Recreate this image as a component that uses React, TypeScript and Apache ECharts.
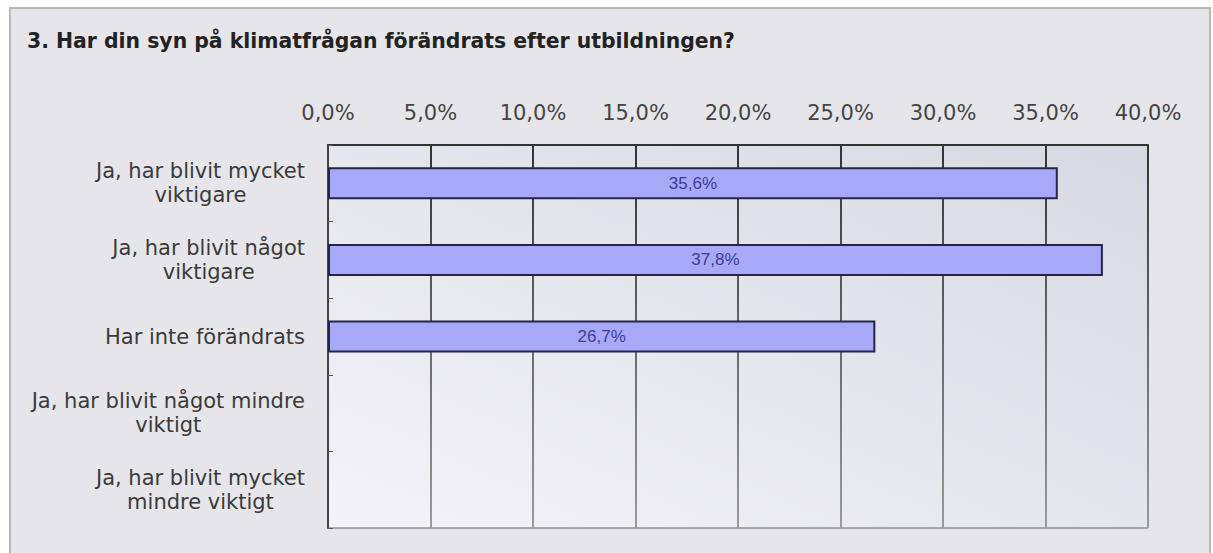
import React, { useEffect, useRef } from "react";
import * as echarts from "echarts";

const TITLE = "3. Har din syn på klimatfrågan förändrats efter utbildningen?";
const categories = [
  "Ja, har blivit mycket\nviktigare",
  "Ja, har blivit något\nviktigare",
  "Har inte förändrats",
  "Ja, har blivit något mindre\nviktigt",
  "Ja, har blivit mycket\nmindre viktigt",
];
const values = [35.6, 37.8, 26.7, 0, 0];
const xTicks = [0, 5, 10, 15, 20, 25, 30, 35, 40];

const LABEL_SIZE = 21;
const LABEL_FONT = `${LABEL_SIZE}px "DejaVu Sans"`;

function measure(text: string): number {
  const c = document.createElement("canvas");
  const ctx = c.getContext("2d");
  if (!ctx) return text.length * 11;
  ctx.font = LABEL_FONT;
  return ctx.measureText(text).width;
}

export default function App() {
  const ref = useRef<HTMLDivElement>(null);
  useEffect(() => {
    if (!ref.current) return;
    const chart = echarts.init(ref.current, null, { renderer: "svg" });
    const rich: Record<string, any> = {};
    categories.forEach((c, i) => {
      const w = Math.max(...c.split("\n").map(measure)) + 2;
      rich["c" + i] = {
        width: w,
        align: "center",
        fontSize: LABEL_SIZE,
        fontFamily: "DejaVu Sans",
        color: "#3a3a3a",
        lineHeight: 24,
      };
    });
    const top = 145, bottom = 528;
    chart.setOption({
      animation: false,
      backgroundColor: "#ffffff",
      graphic: {
        elements: [
          {
            type: "rect",
            z: -10,
            shape: { x: 10, y: 8, width: 1200, height: 560 },
            style: { fill: "#e6e6ea", stroke: "#b8b8b8", lineWidth: 2 },
          },
        ],
      },
      title: {
        text: TITLE,
        left: 22,
        top: 26,
        textStyle: {
          fontFamily: "DejaVu Sans",
          fontWeight: "bold",
          fontSize: 20.4,
          color: "#222222",
        },
      },
      grid: {
        left: 328,
        right: 65,
        top: top,
        bottom: 553 - bottom,
        show: true,
        borderColor: "#666666",
        borderWidth: 1,
        backgroundColor: new echarts.graphic.LinearGradient(0, 1, 1, 0, [
          { offset: 0, color: "#f3f3f8" },
          { offset: 1, color: "#d8d8e2" },
        ]),
      },
      xAxis: {
        type: "value",
        position: "top",
        min: 0,
        max: 40,
        interval: 5,
        axisLine: { show: true, lineStyle: { color: "#333333", width: 2 } },
        axisTick: { show: false },
        axisLabel: {
          margin: 22,
          fontSize: LABEL_SIZE,
          fontFamily: "DejaVu Sans",
          color: "#444444",
          formatter: (v: number) =>
            xTicks.includes(v) ? v.toFixed(1).replace(".", ",") + "%" : "",
        },
        splitLine: {
          show: true,
          lineStyle: {
            width: 2,
            color: {
              type: "linear",
              x: 0,
              y: top,
              x2: 0,
              y2: bottom,
              global: true,
              colorStops: [
                { offset: 0, color: "#333333" },
                { offset: 1, color: "#9a9a9a" },
              ],
            },
          },
        },
      },
      yAxis: {
        type: "category",
        inverse: true,
        data: categories,
        axisLine: { show: true, lineStyle: { color: "#444444", width: 2 } },
        axisTick: { show: true, inside: true, length: 5, lineStyle: { color: "#555555" } },
        axisLabel: {
          margin: 22,
          formatter: (v: string) => {
            const i = categories.indexOf(v);
            return v
              .split("\n")
              .map((l) => `{c${i}|${l}}`)
              .join("\n");
          },
          rich,
        },
        splitLine: { show: false },
      },
      series: [
        {
          type: "bar",
          data: values.map((v) =>
            v > 0 ? v : { value: v, itemStyle: { borderWidth: 0, opacity: 0 } }
          ),
          barWidth: 32,
          itemStyle: {
            color: "#a8a8f8",
            borderColor: "#25254a",
            borderWidth: 2,
          },
          label: {
            show: true,
            position: "inside",
            fontFamily: "Liberation Sans",
            fontSize: 17,
            color: "#3c3c96",
            formatter: (p: any) =>
              p.value > 0 ? p.value.toFixed(1).replace(".", ",") + "%" : "",
          },
        },
      ],
    });
    return () => chart.dispose();
  }, []);
  return (
    <div
      ref={ref}
      style={{ position: "fixed", left: 0, top: 0, width: 1213, height: 553 }}
    />
  );
}
